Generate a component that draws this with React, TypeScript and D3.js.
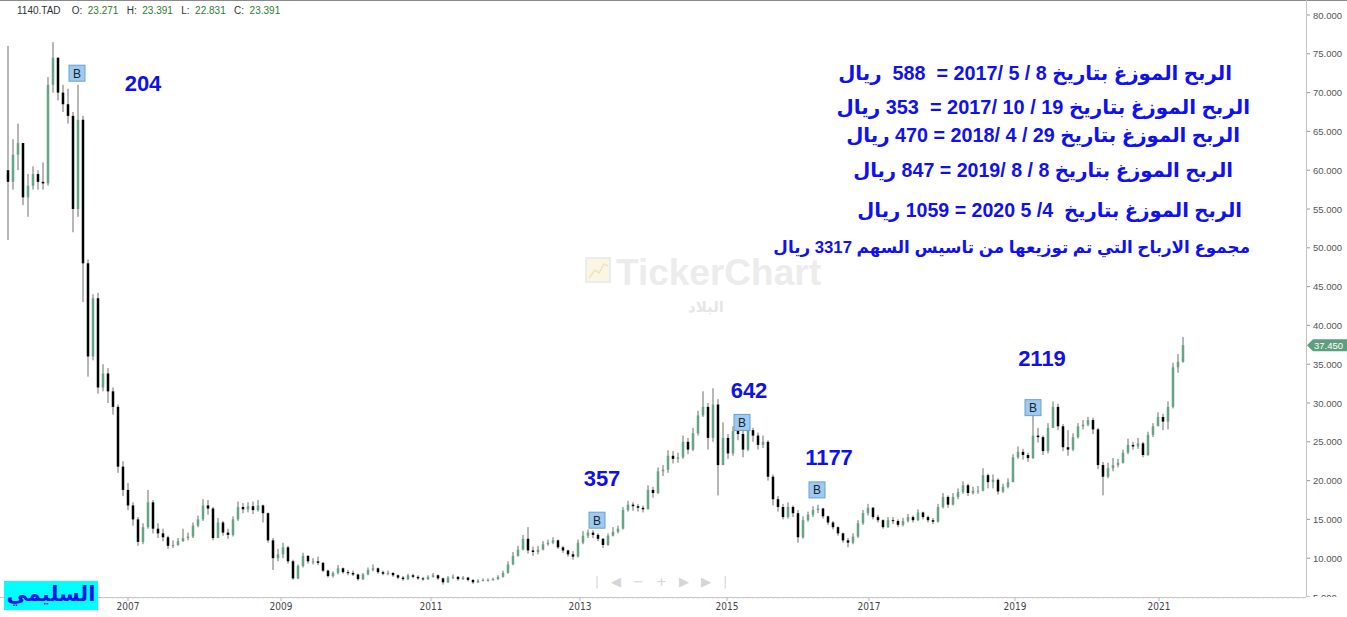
import React, { useEffect, useRef } from "react";
import * as d3 from "d3";

// candles (about three weeks each)
const closes = [
  58.5, 62, 63.5, 56.5, 58, 59.5, 58.5, 58.3, 71, 74.5, 70, 68.5, 67, 55, 66.5, 48, 36, 43.5, 32, 33.8,
  31.5, 29.5, 21.8, 18.8, 16.8, 15, 12.1, 14, 17.2, 13.8, 13.2, 12.7, 11.6, 11.7, 12.2, 12.6, 12.8, 14.2, 15, 16.8,
  16.4, 12.6, 14.6, 13.3, 13, 15, 16.6, 16.3, 16.7, 16.2, 16.8, 15.8, 12.3, 10, 10.5, 11.4, 9.6, 7.4, 9, 10.3,
  9.6, 9.6, 9.4, 8.4, 7.7, 8.1, 8.7, 8.2, 8.1, 7.9, 7.3, 7.9, 8.5, 8.7, 8.2, 8, 8.1, 7.8, 7.5, 7.3,
  7.8, 7.6, 7.4, 7.3, 7.6, 7.8, 7.4, 6.9, 7.5, 7.6, 7.3, 7.5, 7.2, 6.9, 7.1, 7.2, 7.2, 7.3, 7.6, 8.1,
  9.2, 10.3, 11.1, 12.5, 11, 10.8, 11.1, 11.8, 12, 12.3, 11.4, 11, 10.5, 10.2, 12, 12.9, 13.3, 13, 12.5, 11.7,
  12.9, 13.4, 13.8, 16.2, 16.9, 16.7, 16.5, 16.3, 18.8, 18.4, 21.2, 21.4, 23.2, 22.8, 23, 25, 24, 26.1, 28.4, 29.5,
  25.5, 29.8, 22, 25.5, 23.5, 26.4, 26, 24, 26.5, 25.8, 24.6, 25, 20.5, 17.6, 16.6, 15.3, 16.6, 15.8, 12.7, 14.9,
  15.6, 16.2, 16.4, 15.4, 14.6, 14, 13.2, 12.3, 12, 12.8, 14.5, 15.8, 16.5, 15.3, 14.9, 14, 14.9, 14.8, 14.3, 14.8,
  15.3, 14.9, 15.9, 15.3, 14.9, 14.7, 16.6, 17.9, 16.9, 17.9, 18.5, 19.4, 18.4, 18.7, 18.7, 20.7, 19.8, 20.1, 18.6, 19.2,
  19.8, 23, 23.7, 23.3, 22.9, 25.8, 25.6, 23.8, 26.8, 29.5, 27, 24.3, 24, 25.6, 27, 27.2, 27.8, 26.6, 22, 20.5,
  21.6, 22, 22.3, 23.6, 24.6, 24.4, 24.8, 23.3, 25.9, 27, 28.2, 27.6, 29.5, 34.6, 35.3, 37.45,
];
const highs = [
  76, 64, 66, 63, 59.5, 60.5, 60, 61, 72, 76.5, 74.5, 71, 70.5, 67.5, 71, 67, 48.5, 44, 44.2, 35,
  34.5, 32, 29.8, 22.5, 19.7, 17.2, 15.3, 14.5, 18.8, 17.5, 14.5, 13.8, 12.9, 12.3, 12.6, 13.8, 13.3, 14.6, 15.5, 17.6,
  17.5, 16.6, 15.2, 14.8, 13.8, 15.4, 17.3, 17.1, 17.2, 17.3, 17.5, 16.9, 15.9, 12.6, 11.2, 12, 11.6, 9.8, 9.2, 10.7,
  10.4, 10, 10.2, 9.5, 8.5, 8.3, 9.1, 8.8, 8.5, 8.4, 8, 8.1, 8.8, 9.2, 8.8, 8.4, 8.4, 8.2, 7.9, 7.7,
  8, 8, 7.8, 7.6, 7.8, 8.1, 7.9, 7.5, 7.7, 7.9, 7.7, 7.7, 7.6, 7.3, 7.3, 7.4, 7.4, 7.5, 7.8, 8.4,
  9.6, 10.8, 11.6, 13, 14, 11.5, 11.6, 12.2, 12.4, 12.7, 12.4, 11.6, 11.1, 10.9, 12.4, 13.5, 13.7, 13.6, 13.2, 12.6,
  13.2, 14, 14.2, 16.6, 17.4, 17.2, 17, 16.8, 19.4, 19.2, 21.7, 22, 23.9, 23.8, 23.6, 25.8, 25.5, 26.8, 29, 31.5,
  30, 31.9, 30.5, 27.5, 26, 27, 27.2, 26.8, 27, 26.8, 26.2, 25.8, 25.2, 20.8, 18, 17, 17.2, 16.8, 16.2, 15.4,
  16, 16.7, 16.9, 16.5, 15.5, 14.8, 14.1, 13.3, 12.6, 13.2, 14.9, 16.2, 17, 16.6, 15.6, 15, 15.3, 15.3, 15, 15.2,
  15.7, 15.5, 16.3, 16, 15.5, 15.2, 17, 18.4, 18.1, 18.4, 19, 19.9, 19.6, 19.2, 19.3, 21.6, 20.9, 20.8, 20.3, 19.6,
  20.3, 23.4, 24.4, 24.1, 23.6, 28.6, 26.8, 25.8, 27.4, 30.2, 29.9, 27.3, 26.5, 26.1, 27.4, 27.8, 28.2, 28.1, 26.8, 22.4,
  22.3, 22.9, 22.8, 24, 25.4, 25, 25.5, 25, 26.3, 27.4, 28.8, 28.6, 30.2, 35.2, 36.3, 38.5,
];
const lows = [
  51, 57.5, 60, 55.5, 54, 57.5, 57.5, 57.5, 58, 70, 69, 67.5, 66, 52, 54, 43, 33.4, 35.5, 31.2, 31.5,
  30, 28.5, 21, 18, 16.2, 14.2, 11.6, 11.8, 13.8, 13.2, 12.6, 12.2, 11.2, 11.3, 11.6, 12.1, 12.3, 12.6, 14, 14.8,
  15.6, 12.3, 12.8, 12.9, 12.5, 12.8, 14.8, 15.8, 15.9, 15.7, 16, 14.6, 12, 8.5, 9.6, 10, 9.3, 7.2, 7.3, 8.8,
  9.3, 9.2, 9.1, 8.2, 7.5, 7.5, 7.9, 8, 7.8, 7.7, 7.1, 7.2, 7.8, 8.3, 8, 7.8, 7.8, 7.6, 7.3, 7.1,
  7.2, 7.4, 7.2, 7.1, 7.2, 7.5, 7.2, 6.6, 6.8, 7.3, 7.1, 7.2, 7, 6.7, 6.8, 7, 7, 7.1, 7.2, 7.5,
  8, 9.1, 10.2, 11, 10.6, 10.3, 10.5, 11, 11.6, 11.8, 11.2, 10.7, 10.2, 9.8, 10.1, 11.8, 12.6, 12.6, 12.2, 11.3,
  11.6, 12.8, 13.2, 13.7, 16, 16.1, 16, 15.9, 16.3, 17.8, 18.3, 20.6, 21, 22.2, 22.3, 22.8, 23.4, 23.8, 25.8, 28.2,
  24, 25, 18.1, 22, 22.8, 23.2, 25.2, 23, 23.8, 25, 24, 24.2, 20, 16.8, 16, 15, 15.1, 15.3, 12, 12.5,
  14.7, 15.3, 15.8, 15.1, 14.3, 13.7, 12.9, 12, 11.4, 11.8, 12.6, 14.3, 15.5, 15, 14.6, 13.8, 13.9, 14.4, 14, 14.1,
  14.6, 14.6, 14.8, 15, 14.6, 14.4, 14.6, 16.4, 16.5, 16.8, 17.6, 18.3, 18, 18.2, 18.3, 18.6, 19, 19, 18.2, 18.4,
  19, 19.8, 22.8, 22.7, 22.4, 22.8, 24.9, 23.3, 23.5, 26.8, 26.5, 23.8, 23.2, 23.8, 25.4, 26.6, 27, 26, 21.5, 18.1,
  20.3, 21.2, 21.7, 22.2, 23.4, 24, 24.1, 23, 23.2, 25.6, 27.2, 26.5, 26.6, 29.3, 33.9, 35.2,
];
const firstOpen = 60;

const yearLabels = ["2007", "2009", "2011", "2013", "2015", "2017", "2019", "2021"];
const yearIndex = [24, 54.6, 84.6, 114.4, 143.8, 172.2, 201.4, 230.2];
const priceTicks = [80, 75, 70, 65, 60, 55, 50, 45, 40, 35, 30, 25, 20, 15, 10, 5];

// B markers and dividend numbers, in chart coordinates (candle index, price)
const buyIndex = [13.8, 117.8, 146.8, 161.8, 205];
const buyPrice = [72.5, 14.9, 27.5, 18.8, 29.4];
const divLabels = ["204", "357", "642", "1177", "2119"];
const divIndex = [27, 118.8, 148.2, 164.2, 206.8];
const divPrice = [71.2, 20.3, 31.7, 23.0, 35.8];

const noteLines = [
  "الربح الموزغ بتاريخ 8 / 5 /2017 =  588  ريال",
  "الربح الموزغ بتاريخ 19 / 10 /2017 =  353 ريال",
  "الربح الموزغ بتاريخ 29 / 4 /2018 = 470 ريال",
  "الربح الموزغ بتاريخ 8 / 8 /2019 = 847 ريال",
  "الربح الموزغ بتاريخ  4/ 5 2020 = 1059 ريال",
  "مجموع الارباح التي تم توزيعها من تاسيس السهم 3317 ريال",
];
const noteRight = [1232, 1250, 1240, 1233, 1242, 1250];
const noteWidth = [394, 414, 394, 380, 385, 477];
const noteY = [80, 114, 142, 177, 217, 253];

const W = 1347;
const H = 617;

const App: React.FC = () => {
  const svgRef = useRef<SVGSVGElement | null>(null);

  useEffect(() => {
    if (!svgRef.current) return;
    const svg = d3.select(svgRef.current);
    svg.selectAll("*").remove();

    const plotRight = 1306;
    const plotBottom = 597;

    const x = d3.scaleLinear().domain([0, 235]).range([8, 1183]);
    const y = d3.scaleLinear().domain([5, 80]).range([plotBottom, 15]);

    const data = closes.map((c, i) => ({
      i,
      o: i === 0 ? firstOpen : closes[i - 1],
      h: highs[i],
      l: lows[i],
      c,
    }));

    svg.append("rect").attr("width", W).attr("height", H).attr("fill", "#fff");

    // top border
    svg.append("line")
      .attr("x1", 0).attr("x2", W).attr("y1", 0.5).attr("y2", 0.5)
      .attr("stroke", "#8a8a8a");

    // watermark
    const wm = svg.append("g");
    wm.append("rect")
      .attr("x", 586).attr("y", 258).attr("width", 24).attr("height", 24)
      .attr("fill", "#fbf6e4").attr("stroke", "#ececec").attr("stroke-width", 2);
    wm.append("path")
      .attr("d", "M589,278 L595,270 L599,273 L604,264 L608,266")
      .attr("fill", "none").attr("stroke", "#efe3b8").attr("stroke-width", 1.5);
    wm.append("text")
      .attr("x", 616).attr("y", 285)
      .attr("font-family", "Liberation Sans, Arial, sans-serif")
      .attr("font-weight", "bold").attr("font-size", 37)
      .attr("fill", "#ececec")
      .text("TickerChart");
    wm.append("text")
      .attr("x", 706).attr("y", 312).attr("text-anchor", "middle")
      .attr("font-family", "DejaVu Sans, sans-serif")
      .attr("font-weight", "bold").attr("font-size", 15)
      .attr("fill", "#e6e6e6")
      .text("البلاد");

    // axes lines
    svg.append("line")
      .attr("x1", plotRight + 0.5).attr("x2", plotRight + 0.5).attr("y1", 0).attr("y2", plotBottom)
      .attr("stroke", "#c4c4c4");
    svg.append("line")
      .attr("x1", 0).attr("x2", plotRight).attr("y1", plotBottom + 0.5).attr("y2", plotBottom + 0.5)
      .attr("stroke", "#c4c4c4");

    // minor ticks along the time axis
    svg.append("g").selectAll("line")
      .data(d3.range(0, 260))
      .enter().append("line")
      .attr("x1", d => x(d)).attr("x2", d => x(d))
      .attr("y1", plotBottom).attr("y2", plotBottom + 2)
      .attr("stroke", "#d6d6d6");

    // year ticks
    const xa = svg.append("g").attr("font-family", "Liberation Sans Narrow, DejaVu Sans Condensed, sans-serif")
      .attr("font-size", 10).attr("fill", "#444");
    yearLabels.forEach((lab, k) => {
      xa.append("line")
        .attr("x1", x(yearIndex[k])).attr("x2", x(yearIndex[k]))
        .attr("y1", plotBottom).attr("y2", plotBottom + 4)
        .attr("stroke", "#b8b8b8");
      xa.append("text")
        .attr("x", x(yearIndex[k])).attr("y", 610)
        .attr("text-anchor", "middle")
        .text(lab);
    });

    // price axis
    svg.append("defs").append("clipPath").attr("id", "yclip")
      .append("rect").attr("x", plotRight).attr("y", 0).attr("width", 50).attr("height", plotBottom);
    const ya = svg.append("g").attr("clip-path", "url(#yclip)")
      .attr("font-family", "Liberation Sans, Arial, sans-serif").attr("font-size", 9.5).attr("fill", "#555");
    priceTicks.forEach(p => {
      ya.append("line")
        .attr("x1", plotRight + 1).attr("x2", plotRight + 4)
        .attr("y1", y(p)).attr("y2", y(p))
        .attr("stroke", "#999");
      ya.append("text")
        .attr("x", plotRight + 7).attr("y", y(p) + 3.5)
        .text(p.toFixed(3));
    });

    // candles
    const cg = svg.append("g");
    cg.selectAll("line.wick")
      .data(data)
      .enter().append("line")
      .attr("class", "wick")
      .attr("x1", d => x(d.i)).attr("x2", d => x(d.i))
      .attr("y1", d => y(d.h)).attr("y2", d => y(d.l))
      .attr("stroke", "#6f6f6f").attr("stroke-width", 1);
    cg.selectAll("rect.body")
      .data(data)
      .enter().append("rect")
      .attr("class", "body")
      .attr("x", d => x(d.i) - 1.25)
      .attr("width", 2.5)
      .attr("y", d => y(Math.max(d.o, d.c)))
      .attr("height", d => Math.max(1, Math.abs(y(d.o) - y(d.c))))
      .attr("fill", d => (d.c >= d.o ? "#66a583" : "#000"));

    // last price tag
    const last = closes[closes.length - 1];
    const ly = y(last);
    svg.append("path")
      .attr("d", `M${plotRight + 1},${ly} L${plotRight + 7},${ly - 6} L${W},${ly - 6} L${W},${ly + 6} L${plotRight + 7},${ly + 6} Z`)
      .attr("fill", "#5e9e7e");
    svg.append("text")
      .attr("x", plotRight + 8).attr("y", ly + 3.5)
      .attr("font-family", "Liberation Sans, Arial, sans-serif").attr("font-size", 9.5)
      .attr("fill", "#fff")
      .text(last.toFixed(3));

    // B markers
    buyIndex.forEach((bi, k) => {
      const cx = x(bi);
      const cy = y(buyPrice[k]);
      svg.append("rect")
        .attr("x", cx - 8).attr("y", cy - 8).attr("width", 16).attr("height", 16)
        .attr("fill", "#9ccaf2").attr("stroke", "#6f9fc9");
      svg.append("text")
        .attr("x", cx).attr("y", cy + 4.5).attr("text-anchor", "middle")
        .attr("font-family", "Liberation Sans, Arial, sans-serif").attr("font-size", 12)
        .attr("fill", "#222")
        .text("B");
    });

    // dividend numbers
    divLabels.forEach((lab, k) => {
      svg.append("text")
        .attr("x", x(divIndex[k])).attr("y", y(divPrice[k]) + 8)
        .attr("text-anchor", "middle")
        .attr("font-family", "Liberation Sans, Arial, sans-serif")
        .attr("font-weight", "bold").attr("font-size", 22)
        .attr("fill", "#1010e8")
        .text(lab);
    });

    // notes: size each line so it spans the width seen in the picture
    noteLines.forEach((t, k) => {
      const base = 20;
      const txt = svg.append("text")
        .attr("x", noteRight[k]).attr("y", noteY[k])
        .attr("direction", "rtl")
        .attr("text-anchor", "start")
        .style("white-space", "pre")
        .attr("font-family", "Liberation Sans, DejaVu Sans, sans-serif")
        .attr("font-weight", "bold").attr("font-size", base)
        .attr("fill", "#1010f0")
        .text(t);
      const node = txt.node() as SVGTextElement | null;
      const len = node ? node.getComputedTextLength() : 0;
      if (len > 0) txt.attr("font-size", (base * noteWidth[k]) / len);
    });

    // navigation glyphs
    svg.append("text")
      .attr("x", 667).attr("y", 586).attr("text-anchor", "middle")
      .attr("font-family", "DejaVu Sans, sans-serif").attr("font-size", 13)
      .attr("fill", "#d6d6d6").attr("letter-spacing", 12)
      .text("|◀−+▶▶|");

    // author box
    svg.append("rect")
      .attr("x", 4).attr("y", 581).attr("width", 94).attr("height", 29)
      .attr("fill", "#00ffff");
    svg.append("text")
      .attr("x", 51).attr("y", 601).attr("text-anchor", "middle")
      .attr("font-family", "DejaVu Sans, sans-serif")
      .attr("font-weight", "bold").attr("font-size", 21)
      .attr("fill", "#1010f0")
      .text("السليمي");

    // header
    const hd = svg.append("text")
      .attr("x", 17).attr("y", 14)
      .style("white-space", "pre")
      .attr("font-family", "Liberation Sans, Arial, sans-serif").attr("font-size", 10)
      .attr("fill", "#333");
    hd.append("tspan").text("1140.TAD    O:  ");
    hd.append("tspan").attr("fill", "#2e7d32").text("23.271");
    hd.append("tspan").text("   H:  ");
    hd.append("tspan").attr("fill", "#2e7d32").text("23.391");
    hd.append("tspan").text("   L:  ");
    hd.append("tspan").attr("fill", "#2e7d32").text("22.831");
    hd.append("tspan").text("   C:  ");
    hd.append("tspan").attr("fill", "#2e7d32").text("23.391");
  }, []);

  return (
    <div style={{ position: "fixed", left: 0, top: 0 }}>
      <svg ref={svgRef} width={W} height={H} style={{ display: "block" }}></svg>
    </div>
  );
};

export default App;
